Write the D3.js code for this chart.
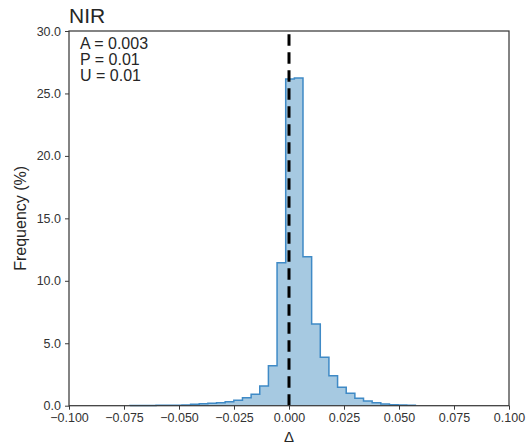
<!DOCTYPE html>
<html>
<head>
<meta charset="utf-8">
<script src="https://cdn.jsdelivr.net/npm/d3@7"></script>
<style>
  html, body { margin: 0; padding: 0; background: #fff; }
  svg { display: block; font-family: "Liberation Sans", Arial, sans-serif; }
</style>
</head>
<body>
<svg id="chart" width="528" height="444"></svg>
<script>
// Histogram bin edges (Δ) and frequencies (%)
const binEdges = [-0.07224, -0.06831, -0.06438, -0.06045, -0.05652, -0.05259, -0.04866,
  -0.04473, -0.0408, -0.03687, -0.03294, -0.02901, -0.02508, -0.02115, -0.01722, -0.01329,
  -0.00936, -0.00543, -0.0015, 0.00243, 0.00636, 0.01029, 0.01422, 0.01815, 0.02208,
  0.02601, 0.02994, 0.03387, 0.0378, 0.04173, 0.04566, 0.04959, 0.05352, 0.05745];
const frequencies = [0.02, 0.02, 0.02, 0.03, 0.03, 0.04, 0.05, 0.11, 0.16, 0.19, 0.24,
  0.32, 0.43, 0.64, 0.91, 1.58, 3.20, 11.45, 26.16, 26.24, 11.93, 6.54, 3.88, 2.40,
  1.47, 0.99, 0.59, 0.38, 0.24, 0.14, 0.08, 0.05, 0.03];
const xTicks = [-0.1, -0.075, -0.05, -0.025, 0, 0.025, 0.05, 0.075, 0.1];
const yTicks = [0, 5, 10, 15, 20, 25, 30];
const statLines = ["A = 0.003", "P = 0.01", "U = 0.01"];
const title = "NIR";
const refValue = 0;

const svg = d3.select("#chart");
const L = 69, R = 509, T = 31, B = 405.7;
const x = d3.scaleLinear().domain([-0.1, 0.1]).range([L, R]);
const y = d3.scaleLinear().domain([0, 30]).range([B, T]);

// histogram vertices
const verts = [[binEdges[0], 0]];
frequencies.forEach((h, i) => {
  verts.push([binEdges[i], h]);
  verts.push([binEdges[i + 1], h]);
});
verts.push([binEdges[binEdges.length - 1], 0]);

const line = d3.line().x(d => x(d[0])).y(d => y(d[1]));
svg.append("path").attr("d", line(verts) + "Z")
  .attr("fill", "#a6c9e1").attr("stroke", "none");
svg.append("path").attr("d", line(verts))
  .attr("fill", "none").attr("stroke", "#3f8ac6").attr("stroke-width", 1.5)
  .attr("stroke-linejoin", "miter");

// reference dashed line
svg.append("line")
  .attr("x1", x(refValue)).attr("x2", x(refValue))
  .attr("y1", y(0)).attr("y2", y(30) + 1)
  .attr("stroke", "#000").attr("stroke-width", 3)
  .attr("stroke-dasharray", "11.5,6.5");

// frame
svg.append("rect").attr("x", L).attr("y", T).attr("width", R - L).attr("height", B - T)
  .attr("fill", "none").attr("stroke", "#3a3a3a").attr("stroke-width", 1.25);

const fmtX = v => d3.format(".3f")(v).replace("-", "\u2212");
const xAxis = d3.axisBottom(x).tickValues(xTicks).tickFormat(fmtX).tickSize(4).tickPadding(3);
const gx = svg.append("g").attr("transform", `translate(0,${B})`).call(xAxis);
const yAxis = d3.axisLeft(y).tickValues(yTicks).tickFormat(d3.format(".1f")).tickSize(4).tickPadding(4);
const gy = svg.append("g").attr("transform", `translate(${L},0)`).call(yAxis);
[gx, gy].forEach(g => {
  g.select(".domain").remove();
  g.selectAll(".tick line").attr("stroke", "#3a3a3a").attr("stroke-width", 1);
  g.selectAll(".tick text").attr("fill", "#333").style("font-size", "12.5px")
    .style("font-family", "'Liberation Sans', Arial, sans-serif");
});

// title
svg.append("text").attr("x", L).attr("y", 23).text(title)
  .attr("fill", "#262626").style("font-size", "21px");

// stats
statLines.forEach((s, i) => {
  svg.append("text").attr("x", 80).attr("y", 49 + i * 16).text(s)
    .attr("fill", "#262626").style("font-size", "16px");
});

// axis labels
svg.append("text").attr("x", x(0)).attr("y", 442).attr("text-anchor", "middle")
  .text("Δ").attr("fill", "#262626").style("font-size", "15px");
svg.append("text").attr("transform", `translate(26,${(T + B) / 2}) rotate(-90)`)
  .attr("text-anchor", "middle").text("Frequency (%)")
  .attr("fill", "#262626").style("font-size", "16px");
</script>
</body>
</html>
